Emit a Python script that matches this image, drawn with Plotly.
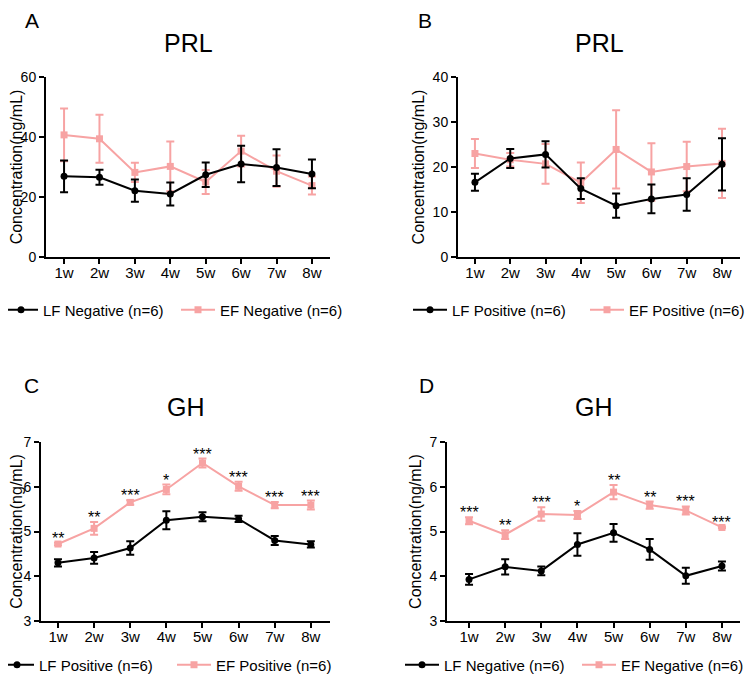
import plotly.graph_objects as go

weeks = ["1w", "2w", "3w", "4w", "5w", "6w", "7w", "8w"]

# Panel A: PRL, Negative
a_lf_mean = [26.9, 26.6, 22.1, 21.0, 27.4, 31.0, 29.8, 27.7]
a_lf_err = [5.3, 2.5, 3.7, 3.8, 4.1, 6.1, 6.1, 4.8]
a_ef_mean = [40.7, 39.4, 28.2, 30.2, 25.0, 35.3, 28.6, 23.8]
a_ef_err = [8.8, 8.0, 3.2, 8.3, 4.0, 5.1, 5.2, 3.0]

# Panel B: PRL, Positive
b_lf_mean = [16.6, 21.9, 22.8, 15.2, 11.4, 12.9, 13.9, 20.6]
b_lf_err = [1.9, 2.1, 2.9, 2.3, 2.7, 3.2, 3.6, 5.8]
b_ef_mean = [23.0, 21.6, 20.7, 16.5, 23.9, 18.9, 20.1, 20.8]
b_ef_err = [3.2, 1.5, 4.4, 4.5, 8.7, 6.4, 5.5, 7.7]

# Panel C: GH, Positive
c_lf_mean = [4.30, 4.41, 4.63, 5.25, 5.33, 5.28, 4.80, 4.71]
c_lf_err = [0.08, 0.13, 0.15, 0.20, 0.10, 0.07, 0.10, 0.07]
c_ef_mean = [4.72, 5.07, 5.65, 5.94, 6.53, 6.01, 5.59, 5.59]
c_ef_err = [0.03, 0.14, 0.05, 0.11, 0.10, 0.10, 0.07, 0.10]
c_stars = ["**", "**", "***", "*", "***", "***", "***", "***"]

# Panel D: GH, Negative
d_lf_mean = [3.93, 4.21, 4.12, 4.71, 4.97, 4.60, 4.01, 4.23]
d_lf_err = [0.12, 0.17, 0.10, 0.25, 0.20, 0.23, 0.18, 0.10]
d_ef_mean = [5.24, 4.93, 5.39, 5.37, 5.88, 5.59, 5.47, 5.09]
d_ef_err = [0.08, 0.10, 0.15, 0.09, 0.16, 0.08, 0.09, 0.02]
d_stars = ["***", "**", "***", "*", "**", "**", "***", "***"]

panel_letters = ["A", "B", "C", "D"]
panel_titles = ["PRL", "PRL", "GH", "GH"]
lf_names = ["LF Negative (n=6)", "LF Positive (n=6)", "LF Positive (n=6)", "LF Negative (n=6)"]
ef_names = ["EF Negative (n=6)", "EF Positive (n=6)", "EF Positive (n=6)", "EF Negative (n=6)"]
y_title = "Concentration(ng/mL)"

# the page body has an 8px default margin, so the figure is drawn 8px in
OFF = 8
W, H = 755 - OFF, 682 - OFF
FONT = "Liberation Sans, Arial, Helvetica, sans-serif"
BLACK = "#000000"
PINK = "#F7A3A3"


def fx(px):
    return (px - OFF) / W


def fy(py):
    return 1 - (py - OFF) / H


# plot-area boxes in window pixels: (left, right, top, bottom)
boxes = [(46, 330, 77, 257), (458, 740, 77, 257), (41, 330, 442, 621), (447, 740, 442, 621)]
xranges = [[-0.51, 7.51], [-0.48, 7.51], [-0.47, 7.53], [-0.61, 7.5]]
yranges = [[0, 60], [0, 40], [3, 7], [3, 7]]
ydticks = [20, 10, 1, 1]
# letters: (x px, y px, yanchor)
letter_pos = [(32, OFF, "top"), (425, OFF, "top"), (32, 385, "middle"), (426, 385, "middle")]
title_y = [43, 43, 407, 407]
# legend left edge (px) and vertical centre (px)
legend_pos = [(-1, 310), (408, 310), (-5, 665), (400, 665)]

data = [
    (a_lf_mean, a_lf_err, a_ef_mean, a_ef_err, None),
    (b_lf_mean, b_lf_err, b_ef_mean, b_ef_err, None),
    (c_lf_mean, c_lf_err, c_ef_mean, c_ef_err, c_stars),
    (d_lf_mean, d_lf_err, d_ef_mean, d_ef_err, d_stars),
]

fig = go.Figure()
annotations = []
layout = dict(
    width=W, height=H,
    margin=dict(l=0, r=0, t=0, b=0, autoexpand=False),
    paper_bgcolor="white", plot_bgcolor="white",
    font=dict(family=FONT, color=BLACK),
    showlegend=True,
)

for i, (lf_m, lf_e, ef_m, ef_e, stars) in enumerate(data):
    n = i + 1
    xa = "x" if n == 1 else f"x{n}"
    ya = "y" if n == 1 else f"y{n}"
    leg = "legend" if n == 1 else f"legend{n}"
    fig.add_trace(go.Scatter(
        x=weeks, y=ef_m, name=ef_names[i], mode="lines+markers",
        line=dict(color=PINK, width=2),
        marker=dict(symbol="square", size=7, color=PINK),
        error_y=dict(type="data", array=ef_e, visible=True, color=PINK, thickness=2, width=4),
        xaxis=xa, yaxis=ya, legend=leg, legendrank=2,
    ))
    fig.add_trace(go.Scatter(
        x=weeks, y=lf_m, name=lf_names[i], mode="lines+markers",
        line=dict(color=BLACK, width=2),
        marker=dict(symbol="circle", size=7, color=BLACK),
        error_y=dict(type="data", array=lf_e, visible=True, color=BLACK, thickness=2, width=4),
        xaxis=xa, yaxis=ya, legend=leg, legendrank=1,
    ))
    l, r, t, b = boxes[i]
    axis_common = dict(
        showline=True, linecolor=BLACK, linewidth=2, mirror=False,
        ticks="outside", ticklen=5, tickwidth=2, tickcolor=BLACK,
        showgrid=False, zeroline=False, automargin=False,
    )
    layout["xaxis" if n == 1 else f"xaxis{n}"] = dict(
        axis_common, domain=[fx(l), fx(r)], anchor=ya, range=xranges[i],
        type="category", ticklabelstandoff=-4,
        tickfont=dict(family=FONT, size=15, color=BLACK),
    )
    layout["yaxis" if n == 1 else f"yaxis{n}"] = dict(
        axis_common, domain=[fy(b), fy(t)], anchor=xa, range=yranges[i],
        dtick=ydticks[i], tick0=0,
        tickfont=dict(family=FONT, size=14, color=BLACK),
        title=dict(text=y_title, font=dict(family=FONT, size=16, color=BLACK), standoff=4),
    )
    lx, ly = legend_pos[i]
    layout[leg] = dict(
        orientation="h", x=fx(lx), y=fy(ly), xanchor="left", yanchor="middle",
        xref="paper", yref="paper", bgcolor="rgba(0,0,0,0)",
        font=dict(family=FONT, size=15, color=BLACK),
        itemwidth=34, entrywidth=128, entrywidthmode="pixels", traceorder="normal",
    )
    px_, py_, yanc = letter_pos[i]
    annotations.append(dict(
        text=panel_letters[i], x=fx(px_), y=fy(py_), xref="paper", yref="paper",
        showarrow=False, xanchor="center", yanchor=yanc, borderpad=0,
        font=dict(family=FONT, size=21, color=BLACK),
    ))
    annotations.append(dict(
        text=panel_titles[i], x=fx((l + r) / 2), y=fy(title_y[i]), xref="paper", yref="paper",
        showarrow=False, xanchor="center", yanchor="middle",
        font=dict(family=FONT, size=25, color=BLACK),
    ))
    if stars is not None:
        for k, s in enumerate(stars):
            annotations.append(dict(
                text=s, x=weeks[k], y=ef_m[k] + ef_e[k], xref=xa, yref=ya,
                showarrow=False, xanchor="center", yanchor="bottom", yshift=-6,
                font=dict(family=FONT, size=16, color=BLACK),
            ))

layout["annotations"] = annotations
fig.update_layout(**layout)
fig.write_html("out.html")
